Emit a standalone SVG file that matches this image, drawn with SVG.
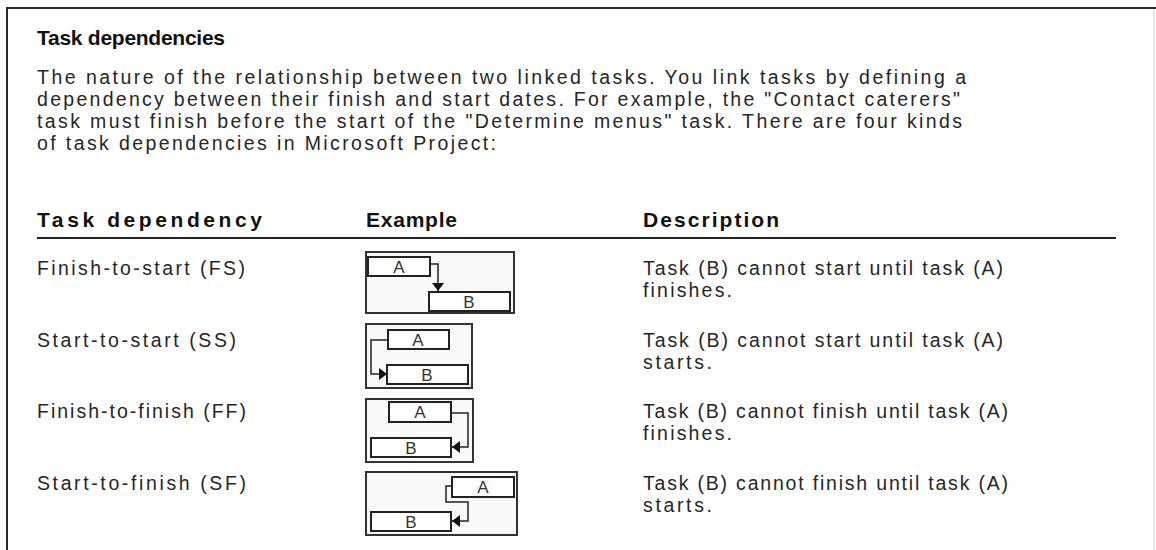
<svg xmlns="http://www.w3.org/2000/svg" width="1156" height="550" viewBox="0 0 1156 550">
<style>
.t{font-family:"Liberation Sans",Arial,sans-serif;font-size:19.5px;fill:#262626}
.b{font-family:"Liberation Sans",Arial,sans-serif;font-size:21px;font-weight:bold;fill:#111}
.lbl{font-family:"Liberation Sans",Arial,sans-serif;font-size:17px;fill:#333;text-anchor:middle}
.frame{fill:#f9f9f9;stroke:#333;stroke-width:2}
.bar{fill:#fff;stroke:#222;stroke-width:2}
.con{fill:none;stroke:#222;stroke-width:1.5}
</style>
<defs>
<marker id="ah" viewBox="0 0 8 12" refX="8" refY="6" markerWidth="8" markerHeight="12" markerUnits="userSpaceOnUse" orient="auto">
<path d="M0,0 L8,6 L0,12 Z" fill="#111"/>
</marker>
</defs>
<rect width="1156" height="550" fill="#fff"/>
<line x1="6" y1="8" x2="1156" y2="8" stroke="#2a2a2a" stroke-width="2"/>
<line x1="7" y1="7" x2="7" y2="550" stroke="#2a2a2a" stroke-width="2"/>
<line x1="1154" y1="9" x2="1154" y2="550" stroke="#cfcfcf" stroke-width="1"/>

<g id="intro">
<text class="b" x="37" y="45" font-size="18.5" textLength="188" lengthAdjust="spacing">Task dependencies</text>
<text class="t" x="37" y="84" textLength="929" lengthAdjust="spacing">The nature of the relationship between two linked tasks. You link tasks by defining a</text>
<text class="t" x="37" y="106" textLength="923" lengthAdjust="spacing">dependency between their finish and start dates. For example, the "Contact caterers"</text>
<text class="t" x="37" y="128" textLength="925" lengthAdjust="spacing">task must finish before the start of the "Determine menus" task. There are four kinds</text>
<text class="t" x="37" y="150" textLength="459" lengthAdjust="spacing">of task dependencies in Microsoft Project:</text>
</g>

<g id="header">
<text class="b" x="37" y="227" textLength="225" lengthAdjust="spacing">Task dependency</text>
<text class="b" x="366" y="227" textLength="91" lengthAdjust="spacing">Example</text>
<text class="b" x="643" y="227" textLength="136" lengthAdjust="spacing">Description</text>
<line x1="37" y1="238" x2="1116" y2="238" stroke="#222" stroke-width="2"/>
</g>

<g id="row-fs">
<text class="t" x="37" y="275" textLength="208" lengthAdjust="spacing">Finish-to-start (FS)</text>
<rect class="frame" x="366" y="252" width="148" height="61"/>
<rect class="bar" x="368" y="257" width="62" height="19"/>
<text class="lbl" x="399" y="273">A</text>
<rect class="bar" x="429" y="292" width="81" height="19"/>
<text class="lbl" x="469" y="308">B</text>
<text class="t" x="643" y="275" textLength="360" lengthAdjust="spacing">Task (B) cannot start until task (A)</text>
<text class="t" x="643" y="297" textLength="89" lengthAdjust="spacing">finishes.</text>
</g>

<g id="row-ss">
<text class="t" x="37" y="347" textLength="199" lengthAdjust="spacing">Start-to-start (SS)</text>
<rect class="frame" x="366" y="324" width="106" height="64"/>
<rect class="bar" x="388" y="330" width="61" height="19"/>
<text class="lbl" x="418" y="346">A</text>
<rect class="bar" x="387" y="365" width="81" height="19"/>
<text class="lbl" x="427" y="381">B</text>
<text class="t" x="643" y="347" textLength="360" lengthAdjust="spacing">Task (B) cannot start until task (A)</text>
<text class="t" x="643" y="369" textLength="69" lengthAdjust="spacing">starts.</text>
</g>

<g id="row-ff">
<text class="t" x="37" y="418" textLength="209" lengthAdjust="spacing">Finish-to-finish (FF)</text>
<rect class="frame" x="366" y="399" width="107" height="63"/>
<rect class="bar" x="389" y="402" width="62" height="20"/>
<text class="lbl" x="420" y="418">A</text>
<rect class="bar" x="371" y="438" width="80" height="19"/>
<text class="lbl" x="411" y="454">B</text>
<text class="t" x="643" y="418" textLength="365" lengthAdjust="spacing">Task (B) cannot finish until task (A)</text>
<text class="t" x="643" y="440" textLength="89" lengthAdjust="spacing">finishes.</text>
</g>

<g id="row-sf">
<text class="t" x="37" y="490" textLength="209" lengthAdjust="spacing">Start-to-finish (SF)</text>
<rect class="frame" x="366" y="472" width="151" height="63"/>
<rect class="bar" x="452" y="477" width="62" height="20"/>
<text class="lbl" x="483" y="493">A</text>
<rect class="bar" x="371" y="512" width="80" height="19"/>
<text class="lbl" x="411" y="528">B</text>
<text class="t" x="643" y="490" textLength="365" lengthAdjust="spacing">Task (B) cannot finish until task (A)</text>
<text class="t" x="643" y="512" textLength="69" lengthAdjust="spacing">starts.</text>
</g>

<g id="connectors">
<path class="con" d="M430,264 H438 V291" marker-end="url(#ah)"/>
<path class="con" d="M388,340 H371 V374 H387" marker-end="url(#ah)"/>
<path class="con" d="M451,413 H468 V447 H452" marker-end="url(#ah)"/>
<path class="con" d="M452,486 H446 V502 H468 V521 H452" marker-end="url(#ah)"/>
</g>
</svg>
